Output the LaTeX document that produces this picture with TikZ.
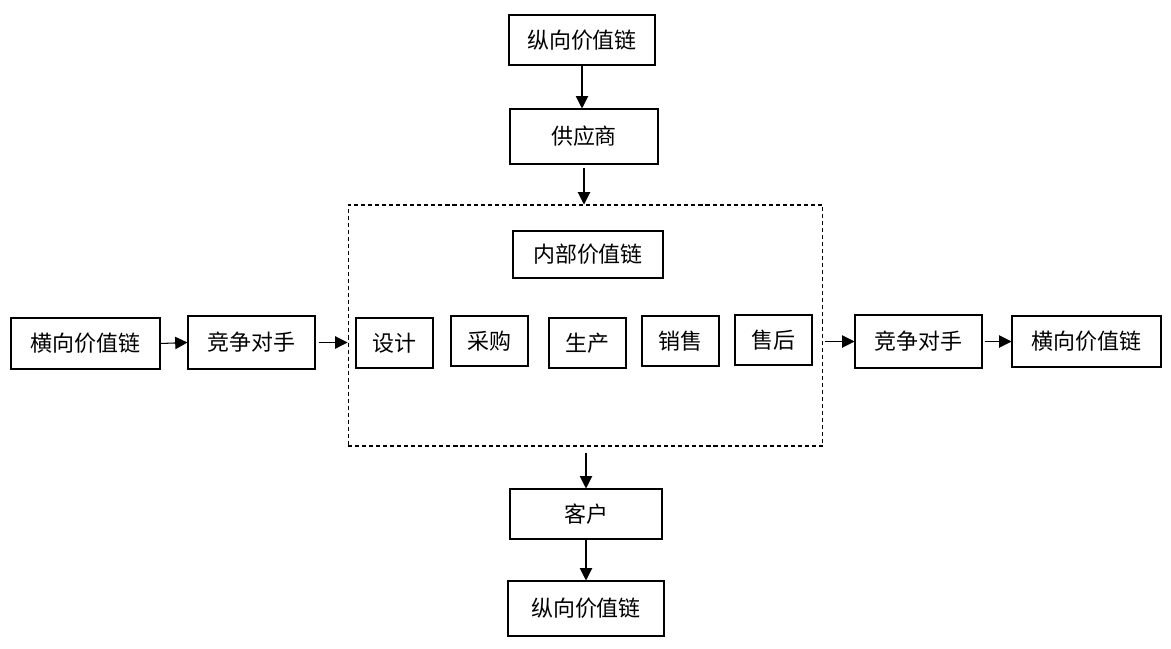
\documentclass[tikz,border=0pt]{standalone}
\usepackage{fontspec}
\newfontfamily\cjk{Noto Sans CJK SC}
\usetikzlibrary{arrows.meta}

\tikzset{
  box/.style={draw, line width=0.6pt, inner sep=0pt, font=\cjk\fontsize{12.5}{15}\selectfont},
  frame/.style={draw, line width=0.6pt, dash pattern=on 2.3pt off 1.7pt},
  link/.style={line width=0.6pt, -{Triangle[length=7pt,width=7pt]}},
}

\begin{document}
\begin{tikzpicture}[x=0.02cm,y=-0.02cm]
	\useasboundingbox (0,0) rectangle (1171,649);
	
	\node[box,minimum width=2.92cm,minimum height=1cm] (vtop) at (582,40) {纵向价值链};
	\node[box,minimum width=2.96cm,minimum height=1.1cm] (supplier) at (584,136.5) {供应商};
	\node[frame,minimum width=9.5cm,minimum height=4.82cm] (inside) at (585.5,325.5) {};
	\node[box,minimum width=3cm,minimum height=0.94cm] (chain) at (588,254.5) {内部价值链};
	
	\node[box,minimum width=1.54cm,minimum height=1cm] (design) at (394.5,343) {设计};
	\node[box,minimum width=1.54cm,minimum height=1cm] (buy) at (489.5,341) {采购};
	\node[box,minimum width=1.54cm,minimum height=1cm] (make) at (587.5,343) {生产};
	\node[box,minimum width=1.54cm,minimum height=1cm] (sell) at (680.5,341) {销售};
	\node[box,minimum width=1.54cm,minimum height=1cm] (service) at (773.5,340) {售后};
	
	\node[box,minimum width=2.98cm,minimum height=1.02cm] (hleft) at (85.5,343.5) {横向价值链};
	\node[box,minimum width=2.54cm,minimum height=1.06cm] (rivalL) at (251.5,342.5) {竞争对手};
	\node[box,minimum width=2.54cm,minimum height=1.06cm] (rivalR) at (918.5,341.5) {竞争对手};
	\node[box,minimum width=2.98cm,minimum height=1.02cm] (hright) at (1086.5,341.5) {横向价值链};
	
	\node[box,minimum width=3.04cm,minimum height=1cm] (client) at (586,514) {客户};
	\node[box,minimum width=3.12cm,minimum height=1.1cm] (vbot) at (586,608.5) {纵向价值链};
	
	\draw[link] (vtop.south) -- (vtop.south |- supplier.north);
	\draw[link,shorten <=0.06cm] (supplier.south) -- (supplier.south |- inside.north);
	\draw[link,shorten <=0.12cm] (client.north |- inside.south) -- (client.north);
	\draw[link] (client.south) -- (vbot.north);
	
	\draw[link] (hleft.east) -- (rivalL.west);
	\draw[link,shorten <=0.06cm] (rivalL.east) -- (rivalL.east -| inside.west);
	\draw[link,shorten <=0.04cm] (rivalR.west -| inside.east) -- (rivalR.west);
	\draw[link,shorten <=0.04cm] (rivalR.east) -- (hright.west);
	
\end{tikzpicture}
\end{document}
